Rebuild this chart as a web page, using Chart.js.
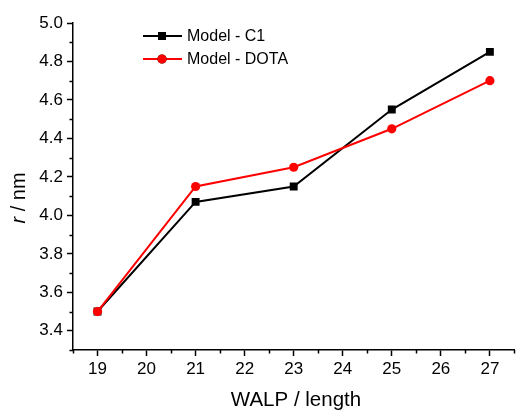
<!DOCTYPE html>
<html>
<head>
<meta charset="utf-8">
<title>WALP length vs r</title>
<script src="https://cdn.jsdelivr.net/npm/chart.js@4.4.1/dist/chart.umd.min.js"></script>
<style>
    html, body { margin: 0; padding: 0; overflow: hidden; background: #fff; }
    #wrap { position: relative; width: 520px; height: 410px; }
</style>
</head>
<body>
<div id="wrap"><canvas id="walp-chart"></canvas></div>
<script>
/* ===========================
   DATA
=========================== */

const walpLength = [19, 21, 23, 25, 27];
const radiusC1 = [3.50, 4.07, 4.15, 4.55, 4.85];
const radiusDOTA = [3.50, 4.15, 4.25, 4.45, 4.70];

const xTicks = [19, 20, 21, 22, 23, 24, 25, 26, 27];
const yTicks = [3.4, 3.6, 3.8, 4.0, 4.2, 4.4, 4.6, 4.8, 5.0];
const xMinorTicks = [18.5, 19.5, 20.5, 21.5, 22.5, 23.5, 24.5, 25.5, 26.5, 27.5];
const yMinorTicks = [3.3, 3.5, 3.7, 3.9, 4.1, 4.3, 4.5, 4.7, 4.9];

const FONT = 'Arial, "Liberation Sans", sans-serif';

/* ===========================
   MINOR TICKS, TITLES, LEGEND
=========================== */

const originStyle = {
    id: "originStyle",

    afterDraw(chart) {
        const ctx = chart.ctx;
        const xs = chart.scales.x;
        const ys = chart.scales.y;
        const area = chart.chartArea;

        ctx.save();

        // minor ticks, pointing outward
        ctx.strokeStyle = "#000";
        ctx.lineWidth = 1.5;
        ctx.beginPath();
        xMinorTicks.forEach(v => {
            const px = Math.round(xs.getPixelForValue(v)) + 0.5;
            ctx.moveTo(px, area.bottom);
            ctx.lineTo(px, area.bottom + 3.5);
        });
        yMinorTicks.forEach(v => {
            const py = Math.round(ys.getPixelForValue(v)) + 0.5;
            ctx.moveTo(area.left, py);
            ctx.lineTo(area.left - 3.5, py);
        });
        ctx.stroke();

        // x title
        ctx.fillStyle = "#000";
        ctx.font = "20.5px " + FONT;
        ctx.textAlign = "center";
        ctx.textBaseline = "alphabetic";
        ctx.fillText("WALP / length", 296, 406);

        // y title: italic r, upright unit
        ctx.save();
        ctx.translate(25, 198);
        ctx.rotate(-Math.PI / 2);
        ctx.textAlign = "left";
        ctx.font = "italic 20px " + FONT;
        const rW = ctx.measureText("r").width;
        ctx.font = "20px " + FONT;
        const restW = ctx.measureText(" / nm").width;
        const start = -(rW + restW) / 2;
        ctx.font = "italic 20px " + FONT;
        ctx.fillText("r", start, 0);
        ctx.font = "20px " + FONT;
        ctx.fillText(" / nm", start + rW, 0);
        ctx.restore();

        // legend: line with marker, label text
        const rows = [
            { ds: chart.data.datasets[0], y: 36 },
            { ds: chart.data.datasets[1], y: 59 }
        ];
        ctx.font = "16px " + FONT;
        ctx.textAlign = "left";
        ctx.textBaseline = "middle";
        rows.forEach(row => {
            const ds = row.ds;
            ctx.strokeStyle = ds.borderColor;
            ctx.lineWidth = ds.borderWidth;
            ctx.beginPath();
            ctx.moveTo(143, row.y);
            ctx.lineTo(182, row.y);
            ctx.stroke();
            Chart.helpers.drawPoint(ctx, {
                pointStyle: ds.pointStyle,
                radius: ds.pointRadius,
                borderWidth: 0
            }, 162, row.y);
            ctx.fillStyle = ds.pointBackgroundColor;
            ctx.fill();
            ctx.fillStyle = "#000";
            ctx.fillText(ds.label, 187, row.y + 1);
        });

        ctx.restore();
    }
};

/* ===========================
   CHART
=========================== */

const canvas = document.getElementById("walp-chart");

new Chart(canvas, {
    type: "line",

    data: {
        datasets: [
            {
                label: "Model - C1",
                data: walpLength.map((x, i) => ({ x: x, y: radiusC1[i] })),
                borderColor: "#000000",
                backgroundColor: "#000000",
                pointBackgroundColor: "#000000",
                pointBorderColor: "#000000",
                borderWidth: 2,
                pointStyle: "rect",
                pointRadius: 5.6,
                pointBorderWidth: 0,
                tension: 0,
                order: 1
            },
            {
                label: "Model - DOTA",
                data: walpLength.map((x, i) => ({ x: x, y: radiusDOTA[i] })),
                borderColor: "#ff0000",
                backgroundColor: "#ff0000",
                pointBackgroundColor: "#ff0000",
                pointBorderColor: "#ff0000",
                borderWidth: 2,
                pointStyle: "circle",
                pointRadius: 4.6,
                pointBorderWidth: 0,
                tension: 0,
                order: 0
            }
        ]
    },

    options: {
        responsive: true,
        maintainAspectRatio: false,
        animation: false,
        events: [],

        layout: {
            padding: { top: 23, right: 2, bottom: 0, left: 0 }
        },

        plugins: {
            legend: { display: false },
            tooltip: { enabled: false }
        },

        scales: {
            x: {
                type: "linear",
                min: 18.5,
                max: 27.5,
                afterBuildTicks: s => { s.ticks = xTicks.map(v => ({ value: v })); },
                afterFit: s => { s.height = 60; },
                grid: {
                    drawOnChartArea: false,
                    drawTicks: true,
                    tickLength: 6,
                    tickWidth: 1.5,
                    tickColor: "#000"
                },
                border: { display: true, color: "#000", width: 1.5 },
                ticks: {
                    color: "#000",
                    font: { family: FONT, size: 17 },
                    padding: 3,
                    maxRotation: 0,
                    autoSkip: false,
                    callback: v => String(v)
                }
            },

            y: {
                type: "linear",
                min: 3.3,
                max: 5.0,
                afterBuildTicks: s => { s.ticks = yTicks.map(v => ({ value: v })); },
                afterFit: s => { s.width = 73; },
                grid: {
                    drawOnChartArea: false,
                    drawTicks: true,
                    tickLength: 6,
                    tickWidth: 1.5,
                    tickColor: "#000"
                },
                border: { display: true, color: "#000", width: 1.5 },
                ticks: {
                    color: "#000",
                    font: { family: FONT, size: 17 },
                    padding: 4,
                    autoSkip: false,
                    callback: v => v.toFixed(1)
                }
            }
        }
    },

    plugins: [originStyle]
});
</script>
</body>
</html>
